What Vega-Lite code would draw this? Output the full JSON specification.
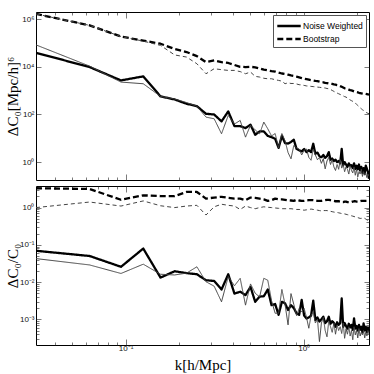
{
"$schema":"https://vega.github.io/schema/vega-lite/v6.json",
"padding":{"left":4,"top":10,"right":0,"bottom":0},
"spacing":1,
"config":{
"view":{"stroke":"black","strokeWidth":1},
"axis":{"minExtent":0,"domain":false,"grid":false,"tickColor":"#222","tickWidth":0.6,"labelFont":"Liberation Sans","labelFontSize":8,"labelColor":"#111","titleFont":"Liberation Serif","titleFontSize":15,"titleFontWeight":"normal","titleColor":"black","labelOverlap":false,"labelFlush":false},
"line":{"strokeJoin":"round"}
},
"datasets":{
"top":[
{"k":0.03142,"s":"NW","v":38900},{"k":0.06283,"s":"NW","v":9770},{"k":0.09425,"s":"NW","v":2690},{"k":0.12566,"s":"NW","v":3980},{"k":0.15708,"s":"NW","v":575},{"k":0.1885,"s":"NW","v":427},{"k":0.21991,"s":"NW","v":282},{"k":0.25133,"s":"NW","v":224},{"k":0.28274,"s":"NW","v":107},{"k":0.31416,"s":"NW","v":100},
{"k":0.34558,"s":"NW","v":51.3},{"k":0.37699,"s":"NW","v":135},{"k":0.40841,"s":"NW","v":32.4},{"k":0.43982,"s":"NW","v":32.4},{"k":0.47124,"s":"NW","v":26.9},{"k":0.50265,"s":"NW","v":37.2},{"k":0.53407,"s":"NW","v":14.1},{"k":0.56549,"s":"NW","v":19.5},{"k":0.5969,"s":"NW","v":19.5},{"k":0.62832,"s":"NW","v":12.6},
{"k":0.65973,"s":"NW","v":11.2},{"k":0.69115,"s":"NW","v":9.55},{"k":0.72257,"s":"NW","v":3.98},{"k":0.75398,"s":"NW","v":12.6},{"k":0.7854,"s":"NW","v":6.31},{"k":0.81681,"s":"NW","v":6.03},{"k":0.84823,"s":"NW","v":7.08},{"k":0.87965,"s":"NW","v":8.71},{"k":0.91106,"s":"NW","v":3.63},{"k":0.94248,"s":"NW","v":3.16},
{"k":0.97389,"s":"NW","v":2.82},{"k":1.00531,"s":"NW","v":3.55},{"k":1.03673,"s":"NW","v":2.63},{"k":1.06814,"s":"NW","v":3.16},{"k":1.09956,"s":"NW","v":2.63},{"k":1.13097,"s":"NW","v":5.89},{"k":1.16239,"s":"NW","v":2.24},{"k":1.19381,"s":"NW","v":2.51},{"k":1.22522,"s":"NW","v":1.78},{"k":1.25664,"s":"NW","v":1.62},
{"k":1.28805,"s":"NW","v":2.0},{"k":1.31947,"s":"NW","v":1.51},{"k":1.35088,"s":"NW","v":1.78},{"k":1.3823,"s":"NW","v":2.63},{"k":1.41372,"s":"NW","v":1.26},{"k":1.44513,"s":"NW","v":1.41},{"k":1.47655,"s":"NW","v":1.12},{"k":1.50796,"s":"NW","v":1.26},{"k":1.53938,"s":"NW","v":1.0},{"k":1.5708,"s":"NW","v":1.12},
{"k":1.60221,"s":"NW","v":0.891},{"k":1.63363,"s":"NW","v":3.63},{"k":1.66504,"s":"NW","v":0.741},{"k":1.69646,"s":"NW","v":1.0},{"k":1.72788,"s":"NW","v":0.794},{"k":1.75929,"s":"NW","v":0.631},{"k":1.79071,"s":"NW","v":0.891},{"k":1.82212,"s":"NW","v":0.708},{"k":1.85354,"s":"NW","v":0.741},{"k":1.88496,"s":"NW","v":0.562},
{"k":1.91637,"s":"NW","v":0.891},{"k":1.94779,"s":"NW","v":0.525},{"k":1.9792,"s":"NW","v":0.708},{"k":2.01062,"s":"NW","v":0.501},{"k":2.04204,"s":"NW","v":0.794},{"k":2.07345,"s":"NW","v":0.447},{"k":2.10487,"s":"NW","v":0.631},{"k":2.13628,"s":"NW","v":0.355},{"k":2.1677,"s":"NW","v":0.562},{"k":2.19911,"s":"NW","v":0.324},
{"k":2.23053,"s":"NW","v":0.708},{"k":2.26195,"s":"NW","v":0.525},{"k":2.29336,"s":"NW","v":0.398},{"k":2.32478,"s":"NW","v":0.2},
{"k":0.03142,"s":"NWt","v":83200},{"k":0.06283,"s":"NWt","v":10700},{"k":0.09425,"s":"NWt","v":2290},{"k":0.12566,"s":"NWt","v":1950},{"k":0.15708,"s":"NWt","v":575},{"k":0.1885,"s":"NWt","v":447},{"k":0.21991,"s":"NWt","v":316},{"k":0.25133,"s":"NWt","v":224},{"k":0.28274,"s":"NWt","v":77.6},{"k":0.31416,"s":"NWt","v":66.1},
{"k":0.34558,"s":"NWt","v":15.5},{"k":0.37699,"s":"NWt","v":91.2},{"k":0.40841,"s":"NWt","v":39.8},{"k":0.43982,"s":"NWt","v":56.2},{"k":0.47124,"s":"NWt","v":11.2},{"k":0.50265,"s":"NWt","v":35.5},{"k":0.53407,"s":"NWt","v":22.4},{"k":0.56549,"s":"NWt","v":15.5},{"k":0.5969,"s":"NWt","v":47.9},{"k":0.62832,"s":"NWt","v":25.1},
{"k":0.65973,"s":"NWt","v":12.6},{"k":0.69115,"s":"NWt","v":15.8},{"k":0.72257,"s":"NWt","v":3.98},{"k":0.75398,"s":"NWt","v":15.8},{"k":0.7854,"s":"NWt","v":7.94},{"k":0.81681,"s":"NWt","v":2.51},{"k":0.84823,"s":"NWt","v":1.38},{"k":0.87965,"s":"NWt","v":5.01},{"k":0.91106,"s":"NWt","v":3.98},{"k":0.94248,"s":"NWt","v":3.55},
{"k":0.97389,"s":"NWt","v":2.0},{"k":1.00531,"s":"NWt","v":3.16},{"k":1.03673,"s":"NWt","v":3.55},{"k":1.06814,"s":"NWt","v":1.58},{"k":1.09956,"s":"NWt","v":1.2},{"k":1.13097,"s":"NWt","v":3.55},{"k":1.16239,"s":"NWt","v":2.0},{"k":1.19381,"s":"NWt","v":1.26},{"k":1.22522,"s":"NWt","v":1.58},{"k":1.25664,"s":"NWt","v":0.891},
{"k":1.28805,"s":"NWt","v":1.41},{"k":1.31947,"s":"NWt","v":0.525},{"k":1.35088,"s":"NWt","v":1.12},{"k":1.3823,"s":"NWt","v":1.58},{"k":1.41372,"s":"NWt","v":0.794},{"k":1.44513,"s":"NWt","v":1.26},{"k":1.47655,"s":"NWt","v":0.631},{"k":1.50796,"s":"NWt","v":0.447},{"k":1.53938,"s":"NWt","v":0.794},{"k":1.5708,"s":"NWt","v":0.501},
{"k":1.60221,"s":"NWt","v":1.26},{"k":1.63363,"s":"NWt","v":0.562},{"k":1.66504,"s":"NWt","v":0.794},{"k":1.69646,"s":"NWt","v":0.398},{"k":1.72788,"s":"NWt","v":0.631},{"k":1.75929,"s":"NWt","v":0.501},{"k":1.79071,"s":"NWt","v":0.316},{"k":1.82212,"s":"NWt","v":0.708},{"k":1.85354,"s":"NWt","v":0.447},{"k":1.88496,"s":"NWt","v":0.355},
{"k":1.91637,"s":"NWt","v":0.631},{"k":1.94779,"s":"NWt","v":0.282},{"k":1.9792,"s":"NWt","v":0.501},{"k":2.01062,"s":"NWt","v":0.24},{"k":2.04204,"s":"NWt","v":0.398},{"k":2.07345,"s":"NWt","v":0.316},{"k":2.10487,"s":"NWt","v":0.501},{"k":2.13628,"s":"NWt","v":0.251},{"k":2.1677,"s":"NWt","v":0.398},{"k":2.19911,"s":"NWt","v":0.282},
{"k":2.23053,"s":"NWt","v":0.355},{"k":2.26195,"s":"NWt","v":0.224},{"k":2.29336,"s":"NWt","v":0.316},{"k":2.32478,"s":"NWt","v":0.251},
{"k":0.03142,"s":"BS","v":1660000},{"k":0.06283,"s":"BS","v":550000},{"k":0.09425,"s":"BS","v":186000},{"k":0.12566,"s":"BS","v":126000},{"k":0.15708,"s":"BS","v":93300},{"k":0.1885,"s":"BS","v":56200},{"k":0.21991,"s":"BS","v":41700},{"k":0.25133,"s":"BS","v":28200},{"k":0.28274,"s":"BS","v":15800},{"k":0.31416,"s":"BS","v":18600},
{"k":0.34558,"s":"BS","v":15800},{"k":0.37699,"s":"BS","v":14500},{"k":0.40841,"s":"BS","v":12000},{"k":0.43982,"s":"BS","v":10000},{"k":0.47124,"s":"BS","v":9770},{"k":0.50265,"s":"BS","v":10000},{"k":0.53407,"s":"BS","v":9550},{"k":0.56549,"s":"BS","v":8510},{"k":0.5969,"s":"BS","v":7590},{"k":0.62832,"s":"BS","v":7080},
{"k":0.65973,"s":"BS","v":6610},{"k":0.69115,"s":"BS","v":6310},{"k":0.72257,"s":"BS","v":5750},{"k":0.75398,"s":"BS","v":5250},{"k":0.7854,"s":"BS","v":5010},{"k":0.81681,"s":"BS","v":4680},{"k":0.84823,"s":"BS","v":4370},{"k":0.87965,"s":"BS","v":4170},{"k":0.91106,"s":"BS","v":3890},{"k":0.94248,"s":"BS","v":3630},
{"k":0.97389,"s":"BS","v":3390},{"k":1.00531,"s":"BS","v":3160},{"k":1.03673,"s":"BS","v":3020},{"k":1.06814,"s":"BS","v":2880},{"k":1.09956,"s":"BS","v":2750},{"k":1.13097,"s":"BS","v":2690},{"k":1.16239,"s":"BS","v":2570},{"k":1.19381,"s":"BS","v":2510},{"k":1.22522,"s":"BS","v":2400},{"k":1.25664,"s":"BS","v":2290},
{"k":1.28805,"s":"BS","v":2240},{"k":1.31947,"s":"BS","v":2140},{"k":1.35088,"s":"BS","v":2090},{"k":1.3823,"s":"BS","v":2000},{"k":1.41372,"s":"BS","v":1950},{"k":1.44513,"s":"BS","v":1910},{"k":1.47655,"s":"BS","v":1820},{"k":1.50796,"s":"BS","v":1780},{"k":1.53938,"s":"BS","v":1700},{"k":1.5708,"s":"BS","v":1660},
{"k":1.60221,"s":"BS","v":1550},{"k":1.63363,"s":"BS","v":1450},{"k":1.66504,"s":"BS","v":1350},{"k":1.69646,"s":"BS","v":1260},{"k":1.72788,"s":"BS","v":1200},{"k":1.75929,"s":"BS","v":1150},{"k":1.79071,"s":"BS","v":1100},{"k":1.82212,"s":"BS","v":1050},{"k":1.85354,"s":"BS","v":1020},{"k":1.88496,"s":"BS","v":977},
{"k":1.91637,"s":"BS","v":933},{"k":1.94779,"s":"BS","v":912},{"k":1.9792,"s":"BS","v":871},{"k":2.01062,"s":"BS","v":851},{"k":2.04204,"s":"BS","v":813},{"k":2.07345,"s":"BS","v":794},{"k":2.10487,"s":"BS","v":776},{"k":2.13628,"s":"BS","v":759},{"k":2.1677,"s":"BS","v":741},{"k":2.19911,"s":"BS","v":741},
{"k":2.23053,"s":"BS","v":724},{"k":2.26195,"s":"BS","v":708},{"k":2.29336,"s":"BS","v":692},{"k":2.32478,"s":"BS","v":676},
{"k":0.03142,"s":"BSt","v":1660000},{"k":0.06283,"s":"BSt","v":550000},{"k":0.09425,"s":"BSt","v":186000},{"k":0.12566,"s":"BSt","v":120000},{"k":0.15708,"s":"BSt","v":79400},{"k":0.1885,"s":"BSt","v":31600},{"k":0.21991,"s":"BSt","v":25700},{"k":0.25133,"s":"BSt","v":13500},{"k":0.28274,"s":"BSt","v":5130},{"k":0.31416,"s":"BSt","v":8320},
{"k":0.34558,"s":"BSt","v":7590},{"k":0.37699,"s":"BSt","v":7080},{"k":0.40841,"s":"BSt","v":7080},{"k":0.43982,"s":"BSt","v":6310},{"k":0.47124,"s":"BSt","v":5130},{"k":0.50265,"s":"BSt","v":6030},{"k":0.53407,"s":"BSt","v":3980},{"k":0.56549,"s":"BSt","v":3720},{"k":0.5969,"s":"BSt","v":3310},{"k":0.62832,"s":"BSt","v":3160},
{"k":0.65973,"s":"BSt","v":3160},{"k":0.69115,"s":"BSt","v":2880},{"k":0.72257,"s":"BSt","v":2690},{"k":0.75398,"s":"BSt","v":2510},{"k":0.7854,"s":"BSt","v":1950},{"k":0.81681,"s":"BSt","v":2140},{"k":0.84823,"s":"BSt","v":2000},{"k":0.87965,"s":"BSt","v":2000},{"k":0.91106,"s":"BSt","v":1910},{"k":0.94248,"s":"BSt","v":1780},
{"k":0.97389,"s":"BSt","v":1740},{"k":1.00531,"s":"BSt","v":1660},{"k":1.03673,"s":"BSt","v":1580},{"k":1.06814,"s":"BSt","v":1550},{"k":1.09956,"s":"BSt","v":1510},{"k":1.13097,"s":"BSt","v":1480},{"k":1.16239,"s":"BSt","v":1450},{"k":1.19381,"s":"BSt","v":1410},{"k":1.22522,"s":"BSt","v":1380},{"k":1.25664,"s":"BSt","v":1350},
{"k":1.28805,"s":"BSt","v":1320},{"k":1.31947,"s":"BSt","v":1290},{"k":1.35088,"s":"BSt","v":1230},{"k":1.3823,"s":"BSt","v":1200},{"k":1.41372,"s":"BSt","v":1120},{"k":1.44513,"s":"BSt","v":1020},{"k":1.47655,"s":"BSt","v":933},{"k":1.50796,"s":"BSt","v":851},{"k":1.53938,"s":"BSt","v":794},{"k":1.5708,"s":"BSt","v":741},
{"k":1.60221,"s":"BSt","v":692},{"k":1.63363,"s":"BSt","v":646},{"k":1.66504,"s":"BSt","v":603},{"k":1.69646,"s":"BSt","v":562},{"k":1.72788,"s":"BSt","v":537},{"k":1.75929,"s":"BSt","v":490},{"k":1.79071,"s":"BSt","v":447},{"k":1.82212,"s":"BSt","v":407},{"k":1.85354,"s":"BSt","v":380},{"k":1.88496,"s":"BSt","v":355},
{"k":1.91637,"s":"BSt","v":331},{"k":1.94779,"s":"BSt","v":295},{"k":1.9792,"s":"BSt","v":269},{"k":2.01062,"s":"BSt","v":240},{"k":2.04204,"s":"BSt","v":214},{"k":2.07345,"s":"BSt","v":191},{"k":2.10487,"s":"BSt","v":174},{"k":2.13628,"s":"BSt","v":158},{"k":2.1677,"s":"BSt","v":148},{"k":2.19911,"s":"BSt","v":135},
{"k":2.23053,"s":"BSt","v":126},{"k":2.26195,"s":"BSt","v":117},{"k":2.29336,"s":"BSt","v":112},{"k":2.32478,"s":"BSt","v":107}
],
"bot":[
{"k":0.03142,"s":"NW","v":0.0692},{"k":0.06283,"s":"NW","v":0.0501},{"k":0.09425,"s":"NW","v":0.0257},{"k":0.12566,"s":"NW","v":0.0794},{"k":0.15708,"s":"NW","v":0.0132},{"k":0.1885,"s":"NW","v":0.0195},{"k":0.21991,"s":"NW","v":0.0174},{"k":0.25133,"s":"NW","v":0.0162},{"k":0.28274,"s":"NW","v":0.0112},{"k":0.31416,"s":"NW","v":0.0107},
{"k":0.34558,"s":"NW","v":0.00631},{"k":0.37699,"s":"NW","v":0.0162},{"k":0.40841,"s":"NW","v":0.0049},{"k":0.43982,"s":"NW","v":0.0055},{"k":0.47124,"s":"NW","v":0.00447},{"k":0.50265,"s":"NW","v":0.00741},{"k":0.53407,"s":"NW","v":0.00295},{"k":0.56549,"s":"NW","v":0.00407},{"k":0.5969,"s":"NW","v":0.00417},{"k":0.62832,"s":"NW","v":0.00631},
{"k":0.65973,"s":"NW","v":0.0024},{"k":0.69115,"s":"NW","v":0.00257},{"k":0.72257,"s":"NW","v":0.00132},{"k":0.75398,"s":"NW","v":0.00295},{"k":0.7854,"s":"NW","v":0.00269},{"k":0.81681,"s":"NW","v":0.00178},{"k":0.84823,"s":"NW","v":0.0024},{"k":0.87965,"s":"NW","v":0.002},{"k":0.91106,"s":"NW","v":0.00145},{"k":0.94248,"s":"NW","v":0.00132},
{"k":0.97389,"s":"NW","v":0.00331},{"k":1.00531,"s":"NW","v":0.00126},{"k":1.03673,"s":"NW","v":0.00105},{"k":1.06814,"s":"NW","v":0.00112},{"k":1.09956,"s":"NW","v":0.00126},{"k":1.13097,"s":"NW","v":0.00316},{"k":1.16239,"s":"NW","v":0.000955},{"k":1.19381,"s":"NW","v":0.00112},{"k":1.22522,"s":"NW","v":0.000871},{"k":1.25664,"s":"NW","v":0.001},
{"k":1.28805,"s":"NW","v":0.00117},{"k":1.31947,"s":"NW","v":0.000794},{"k":1.35088,"s":"NW","v":0.000891},{"k":1.3823,"s":"NW","v":0.00117},{"k":1.41372,"s":"NW","v":0.000759},{"k":1.44513,"s":"NW","v":0.000891},{"k":1.47655,"s":"NW","v":0.000794},{"k":1.50796,"s":"NW","v":0.000631},{"k":1.53938,"s":"NW","v":0.000832},{"k":1.5708,"s":"NW","v":0.000708},
{"k":1.60221,"s":"NW","v":0.000794},{"k":1.63363,"s":"NW","v":0.00363},{"k":1.66504,"s":"NW","v":0.000631},{"k":1.69646,"s":"NW","v":0.000794},{"k":1.72788,"s":"NW","v":0.000661},{"k":1.75929,"s":"NW","v":0.000562},{"k":1.79071,"s":"NW","v":0.000759},{"k":1.82212,"s":"NW","v":0.000603},{"k":1.85354,"s":"NW","v":0.000708},{"k":1.88496,"s":"NW","v":0.000525},
{"k":1.91637,"s":"NW","v":0.00105},{"k":1.94779,"s":"NW","v":0.000562},{"k":1.9792,"s":"NW","v":0.000661},{"k":2.01062,"s":"NW","v":0.000501},{"k":2.04204,"s":"NW","v":0.000708},{"k":2.07345,"s":"NW","v":0.000525},{"k":2.10487,"s":"NW","v":0.000631},{"k":2.13628,"s":"NW","v":0.000447},{"k":2.1677,"s":"NW","v":0.000776},{"k":2.19911,"s":"NW","v":0.000501},
{"k":2.23053,"s":"NW","v":0.000631},{"k":2.26195,"s":"NW","v":0.000447},{"k":2.29336,"s":"NW","v":0.000603},{"k":2.32478,"s":"NW","v":0.000468},
{"k":0.03142,"s":"NWt","v":0.0427},{"k":0.06283,"s":"NWt","v":0.0288},{"k":0.09425,"s":"NWt","v":0.017},{"k":0.12566,"s":"NWt","v":0.0302},{"k":0.15708,"s":"NWt","v":0.0162},{"k":0.1885,"s":"NWt","v":0.0155},{"k":0.21991,"s":"NWt","v":0.0174},{"k":0.25133,"s":"NWt","v":0.0257},{"k":0.28274,"s":"NWt","v":0.0102},{"k":0.31416,"s":"NWt","v":0.00776},
{"k":0.34558,"s":"NWt","v":0.00295},{"k":0.37699,"s":"NWt","v":0.0141},{"k":0.40841,"s":"NWt","v":0.00794},{"k":0.43982,"s":"NWt","v":0.0126},{"k":0.47124,"s":"NWt","v":0.0024},{"k":0.50265,"s":"NWt","v":0.00891},{"k":0.53407,"s":"NWt","v":0.00501},{"k":0.56549,"s":"NWt","v":0.00398},{"k":0.5969,"s":"NWt","v":0.0126},{"k":0.62832,"s":"NWt","v":0.0112},
{"k":0.65973,"s":"NWt","v":0.00316},{"k":0.69115,"s":"NWt","v":0.00145},{"k":0.72257,"s":"NWt","v":0.00145},{"k":0.75398,"s":"NWt","v":0.00631},{"k":0.7854,"s":"NWt","v":0.00251},{"k":0.81681,"s":"NWt","v":0.000708},{"k":0.84823,"s":"NWt","v":0.0049},{"k":0.87965,"s":"NWt","v":0.00251},{"k":0.91106,"s":"NWt","v":0.00126},{"k":0.94248,"s":"NWt","v":0.00195},
{"k":0.97389,"s":"NWt","v":0.00158},{"k":1.00531,"s":"NWt","v":0.00195},{"k":1.03673,"s":"NWt","v":0.00112},{"k":1.06814,"s":"NWt","v":0.000575},{"k":1.09956,"s":"NWt","v":0.00126},{"k":1.13097,"s":"NWt","v":0.00158},{"k":1.16239,"s":"NWt","v":0.000794},{"k":1.19381,"s":"NWt","v":0.001},{"k":1.22522,"s":"NWt","v":0.000251},{"k":1.25664,"s":"NWt","v":0.000794},
{"k":1.28805,"s":"NWt","v":0.00112},{"k":1.31947,"s":"NWt","v":0.000501},{"k":1.35088,"s":"NWt","v":0.000339},{"k":1.3823,"s":"NWt","v":0.000891},{"k":1.41372,"s":"NWt","v":0.000631},{"k":1.44513,"s":"NWt","v":0.000447},{"k":1.47655,"s":"NWt","v":0.000794},{"k":1.50796,"s":"NWt","v":0.000398},{"k":1.53938,"s":"NWt","v":0.000708},{"k":1.5708,"s":"NWt","v":0.000501},
{"k":1.60221,"s":"NWt","v":0.000631},{"k":1.63363,"s":"NWt","v":0.000417},{"k":1.66504,"s":"NWt","v":0.000794},{"k":1.69646,"s":"NWt","v":0.000309},{"k":1.72788,"s":"NWt","v":0.000562},{"k":1.75929,"s":"NWt","v":0.000398},{"k":1.79071,"s":"NWt","v":0.000631},{"k":1.82212,"s":"NWt","v":0.000355},{"k":1.85354,"s":"NWt","v":0.000501},{"k":1.88496,"s":"NWt","v":0.000282},
{"k":1.91637,"s":"NWt","v":0.000631},{"k":1.94779,"s":"NWt","v":0.00038},{"k":1.9792,"s":"NWt","v":0.000501},{"k":2.01062,"s":"NWt","v":0.000316},{"k":2.04204,"s":"NWt","v":0.000562},{"k":2.07345,"s":"NWt","v":0.000355},{"k":2.10487,"s":"NWt","v":0.000447},{"k":2.13628,"s":"NWt","v":0.00038},{"k":2.1677,"s":"NWt","v":0.000501},{"k":2.19911,"s":"NWt","v":0.000316},
{"k":2.23053,"s":"NWt","v":0.000447},{"k":2.26195,"s":"NWt","v":0.000355},{"k":2.29336,"s":"NWt","v":0.000501},{"k":2.32478,"s":"NWt","v":0.000398},
{"k":0.03142,"s":"BS","v":3.31},{"k":0.06283,"s":"BS","v":3.16},{"k":0.09425,"s":"BS","v":1.62},{"k":0.12566,"s":"BS","v":2.14},{"k":0.15708,"s":"BS","v":2.04},{"k":0.1885,"s":"BS","v":2.04},{"k":0.21991,"s":"BS","v":2.63},{"k":0.25133,"s":"BS","v":2.63},{"k":0.28274,"s":"BS","v":1.74},{"k":0.31416,"s":"BS","v":1.86},
{"k":0.34558,"s":"BS","v":1.95},{"k":0.37699,"s":"BS","v":1.82},{"k":0.40841,"s":"BS","v":1.74},{"k":0.43982,"s":"BS","v":1.74},{"k":0.47124,"s":"BS","v":1.58},{"k":0.50265,"s":"BS","v":1.86},{"k":0.53407,"s":"BS","v":1.82},{"k":0.56549,"s":"BS","v":1.74},{"k":0.5969,"s":"BS","v":1.66},{"k":0.62832,"s":"BS","v":1.51},
{"k":0.65973,"s":"BS","v":1.58},{"k":0.69115,"s":"BS","v":1.74},{"k":0.72257,"s":"BS","v":1.66},{"k":0.75398,"s":"BS","v":1.66},{"k":0.7854,"s":"BS","v":1.62},{"k":0.81681,"s":"BS","v":1.58},{"k":0.84823,"s":"BS","v":1.55},{"k":0.87965,"s":"BS","v":1.51},{"k":0.91106,"s":"BS","v":1.62},{"k":0.94248,"s":"BS","v":1.55},
{"k":0.97389,"s":"BS","v":1.51},{"k":1.00531,"s":"BS","v":1.51},{"k":1.03673,"s":"BS","v":1.55},{"k":1.06814,"s":"BS","v":1.58},{"k":1.09956,"s":"BS","v":1.58},{"k":1.13097,"s":"BS","v":1.58},{"k":1.16239,"s":"BS","v":1.55},{"k":1.19381,"s":"BS","v":1.51},{"k":1.22522,"s":"BS","v":1.51},{"k":1.25664,"s":"BS","v":1.51},
{"k":1.28805,"s":"BS","v":1.55},{"k":1.31947,"s":"BS","v":1.58},{"k":1.35088,"s":"BS","v":1.62},{"k":1.3823,"s":"BS","v":1.62},{"k":1.41372,"s":"BS","v":1.58},{"k":1.44513,"s":"BS","v":1.55},{"k":1.47655,"s":"BS","v":1.51},{"k":1.50796,"s":"BS","v":1.48},{"k":1.53938,"s":"BS","v":1.48},{"k":1.5708,"s":"BS","v":1.48},
{"k":1.60221,"s":"BS","v":1.45},{"k":1.63363,"s":"BS","v":1.41},{"k":1.66504,"s":"BS","v":1.41},{"k":1.69646,"s":"BS","v":1.45},{"k":1.72788,"s":"BS","v":1.45},{"k":1.75929,"s":"BS","v":1.41},{"k":1.79071,"s":"BS","v":1.41},{"k":1.82212,"s":"BS","v":1.41},{"k":1.85354,"s":"BS","v":1.41},{"k":1.88496,"s":"BS","v":1.45},
{"k":1.91637,"s":"BS","v":1.48},{"k":1.94779,"s":"BS","v":1.48},{"k":1.9792,"s":"BS","v":1.45},{"k":2.01062,"s":"BS","v":1.45},{"k":2.04204,"s":"BS","v":1.48},{"k":2.07345,"s":"BS","v":1.48},{"k":2.10487,"s":"BS","v":1.51},{"k":2.13628,"s":"BS","v":1.51},{"k":2.1677,"s":"BS","v":1.51},{"k":2.19911,"s":"BS","v":1.51},
{"k":2.23053,"s":"BS","v":1.51},{"k":2.26195,"s":"BS","v":1.51},{"k":2.29336,"s":"BS","v":1.51},{"k":2.32478,"s":"BS","v":1.51},
{"k":0.03142,"s":"BSt","v":1.0},{"k":0.06283,"s":"BSt","v":1.41},{"k":0.09425,"s":"BSt","v":1.1},{"k":0.12566,"s":"BSt","v":1.51},{"k":0.15708,"s":"BSt","v":1.12},{"k":0.1885,"s":"BSt","v":1.0},{"k":0.21991,"s":"BSt","v":1.1},{"k":0.25133,"s":"BSt","v":1.15},{"k":0.28274,"s":"BSt","v":0.631},{"k":0.31416,"s":"BSt","v":1.05},
{"k":0.34558,"s":"BSt","v":1.23},{"k":0.37699,"s":"BSt","v":1.15},{"k":0.40841,"s":"BSt","v":1.1},{"k":0.43982,"s":"BSt","v":0.891},{"k":0.47124,"s":"BSt","v":1.1},{"k":0.50265,"s":"BSt","v":1.0},{"k":0.53407,"s":"BSt","v":0.933},{"k":0.56549,"s":"BSt","v":1.0},{"k":0.5969,"s":"BSt","v":1.05},{"k":0.62832,"s":"BSt","v":1.02},
{"k":0.65973,"s":"BSt","v":1.0},{"k":0.69115,"s":"BSt","v":0.977},{"k":0.72257,"s":"BSt","v":0.955},{"k":0.75398,"s":"BSt","v":0.933},{"k":0.7854,"s":"BSt","v":0.933},{"k":0.81681,"s":"BSt","v":0.933},{"k":0.84823,"s":"BSt","v":0.933},{"k":0.87965,"s":"BSt","v":0.912},{"k":0.91106,"s":"BSt","v":0.891},{"k":0.94248,"s":"BSt","v":0.891},
{"k":0.97389,"s":"BSt","v":0.871},{"k":1.00531,"s":"BSt","v":0.851},{"k":1.03673,"s":"BSt","v":0.871},{"k":1.06814,"s":"BSt","v":0.891},{"k":1.09956,"s":"BSt","v":0.912},{"k":1.13097,"s":"BSt","v":0.891},{"k":1.16239,"s":"BSt","v":0.871},{"k":1.19381,"s":"BSt","v":0.851},{"k":1.22522,"s":"BSt","v":0.832},{"k":1.25664,"s":"BSt","v":0.813},
{"k":1.28805,"s":"BSt","v":0.832},{"k":1.31947,"s":"BSt","v":0.832},{"k":1.35088,"s":"BSt","v":0.832},{"k":1.3823,"s":"BSt","v":0.813},{"k":1.41372,"s":"BSt","v":0.794},{"k":1.44513,"s":"BSt","v":0.776},{"k":1.47655,"s":"BSt","v":0.759},{"k":1.50796,"s":"BSt","v":0.741},{"k":1.53938,"s":"BSt","v":0.741},{"k":1.5708,"s":"BSt","v":0.724},
{"k":1.60221,"s":"BSt","v":0.708},{"k":1.63363,"s":"BSt","v":0.692},{"k":1.66504,"s":"BSt","v":0.676},{"k":1.69646,"s":"BSt","v":0.676},{"k":1.72788,"s":"BSt","v":0.661},{"k":1.75929,"s":"BSt","v":0.646},{"k":1.79071,"s":"BSt","v":0.631},{"k":1.82212,"s":"BSt","v":0.617},{"k":1.85354,"s":"BSt","v":0.603},{"k":1.88496,"s":"BSt","v":0.589},
{"k":1.91637,"s":"BSt","v":0.575},{"k":1.94779,"s":"BSt","v":0.562},{"k":1.9792,"s":"BSt","v":0.55},{"k":2.01062,"s":"BSt","v":0.537},{"k":2.04204,"s":"BSt","v":0.525},{"k":2.07345,"s":"BSt","v":0.513},{"k":2.10487,"s":"BSt","v":0.513},{"k":2.13628,"s":"BSt","v":0.525},{"k":2.1677,"s":"BSt","v":0.537},{"k":2.19911,"s":"BSt","v":0.513},
{"k":2.23053,"s":"BSt","v":0.49},{"k":2.26195,"s":"BSt","v":0.468},{"k":2.29336,"s":"BSt","v":0.447},{"k":2.32478,"s":"BSt","v":0.437}
]
},
"vconcat":[
{
"width":333,"height":168,
"data":{"name":"top"},
"layer":[
{
"encoding":{
"x":{"field":"k","type":"quantitative","scale":{"type":"log","domain":[0.03142,2.32478],"nice":false},
"axis":{"orient":"bottom","values":[0.04,0.05,0.06,0.07,0.08,0.09,0.1,0.2,0.3,0.4,0.5,0.6,0.7,0.8,0.9,1,2],"labels":false,"title":null,"tickSize":{"condition":{"test":"datum.value == 0.1 || datum.value == 1","value":-6},"value":-3}}},
"y":{"field":"v","type":"quantitative","scale":{"type":"log","domain":[0.178,2000000],"nice":false},
"axis":{"orient":"left","values":[1,100,10000,1000000],"labelExpr":"datum.value == 1 ? '10⁰' : datum.value == 100 ? '10²' : datum.value == 10000 ? '10⁴' : '10⁶'","tickSize":-5,"labelPadding":7,"minExtent":14,"maxExtent":14,"titlePadding":2,"title":"ΔC₀[Mpc/h]⁶"}},
"strokeDash":{"field":"s","type":"nominal","scale":{"domain":["NW","BS","NWt","BSt"],"range":[[1,0],[6,3],[1,0],[4,3]]},
"legend":{"values":["NW","BS"],"labelExpr":"datum.label == 'NW' ? 'Noise Weighted' : 'Bootstrap'","title":null,"orient":"top-right","offset":3,"padding":3,"strokeColor":"#555","fillColor":"white","labelFont":"Liberation Sans","labelFontSize":8.5,"labelColor":"black","symbolType":"M-1.8,0H1.8","symbolSize":169,"symbolStrokeWidth":2.5,"symbolStrokeColor":"black","symbolOffset":5,"rowPadding":0,"labelOffset":6}}
},
"layer":[
{"transform":[{"filter":{"field":"s","oneOf":["NW","BS"]}}],"mark":{"type":"line","clip":true,"strokeWidth":2.3,"color":"black"}},
{"transform":[{"filter":{"field":"s","oneOf":["NWt","BSt"]}}],"mark":{"type":"line","clip":true,"strokeWidth":1,"color":"#444444"}}
]
},
{"mark":{"type":"point","opacity":0},
"encoding":{
"x":{"field":"k","type":"quantitative","scale":{"type":"log","domain":[0.03142,2.32478],"nice":false},
"axis":{"orient":"top","values":[0.04,0.05,0.06,0.07,0.08,0.09,0.1,0.2,0.3,0.4,0.5,0.6,0.7,0.8,0.9,1,2],"labels":false,"title":null,"tickSize":{"condition":{"test":"datum.value == 0.1 || datum.value == 1","value":-6},"value":-3}}},
"y":{"field":"v","type":"quantitative","scale":{"type":"log","domain":[0.178,2000000],"nice":false},
"axis":{"orient":"right","values":[1,100,10000,1000000],"labels":false,"title":null,"tickSize":-5}}
}}
],
"resolve":{"axis":{"x":"independent","y":"independent"}}
},
{
"width":333,"height":159,
"data":{"name":"bot"},
"layer":[
{
"encoding":{
"x":{"field":"k","type":"quantitative","scale":{"type":"log","domain":[0.03142,2.32478],"nice":false},
"axis":{"orient":"bottom","values":[0.04,0.05,0.06,0.07,0.08,0.09,0.1,0.2,0.3,0.4,0.5,0.6,0.7,0.8,0.9,1,2],"labelExpr":"datum.value == 0.1 ? '10⁻¹' : datum.value == 1 ? '10⁰' : ''","labelPadding":5,"titlePadding":2,"title":"k[h/Mpc]","tickSize":{"condition":{"test":"datum.value == 0.1 || datum.value == 1","value":-6},"value":-3}}},
"y":{"field":"v","type":"quantitative","scale":{"type":"log","domain":[0.000204,3.8],"nice":false},
"axis":{"orient":"left","values":[0.0003,0.0004,0.0005,0.0006,0.0007,0.0008,0.0009,0.001,0.002,0.003,0.004,0.005,0.006,0.007,0.008,0.009,0.01,0.02,0.03,0.04,0.05,0.06,0.07,0.08,0.09,0.1,0.2,0.3,0.4,0.5,0.6,0.7,0.8,0.9,1,2,3],"labelExpr":"datum.value == 1 ? '10⁰' : datum.value == 0.1 ? '10⁻¹' : datum.value == 0.01 ? '10⁻²' : datum.value == 0.001 ? '10⁻³' : ''","tickSize":{"condition":{"test":"indexof([1,0.1,0.01,0.001], datum.value) >= 0","value":-5},"value":-3},"labelPadding":7,"minExtent":14,"maxExtent":14,"titlePadding":2,"title":"ΔC₀/C₀"}},
"strokeDash":{"field":"s","type":"nominal","scale":{"domain":["NW","BS","NWt","BSt"],"range":[[1,0],[6,3],[1,0],[4,3]]},"legend":null}
},
"layer":[
{"transform":[{"filter":{"field":"s","oneOf":["NW","BS"]}}],"mark":{"type":"line","clip":true,"strokeWidth":2.3,"color":"black"}},
{"transform":[{"filter":{"field":"s","oneOf":["NWt","BSt"]}}],"mark":{"type":"line","clip":true,"strokeWidth":1,"color":"#444444"}}
]
},
{"mark":{"type":"point","opacity":0},
"encoding":{
"x":{"field":"k","type":"quantitative","scale":{"type":"log","domain":[0.03142,2.32478],"nice":false},
"axis":{"orient":"top","values":[0.04,0.05,0.06,0.07,0.08,0.09,0.1,0.2,0.3,0.4,0.5,0.6,0.7,0.8,0.9,1,2],"labels":false,"title":null,"tickSize":{"condition":{"test":"datum.value == 0.1 || datum.value == 1","value":-6},"value":-3}}},
"y":{"field":"v","type":"quantitative","scale":{"type":"log","domain":[0.000204,3.8],"nice":false},
"axis":{"orient":"right","values":[0.0003,0.0004,0.0005,0.0006,0.0007,0.0008,0.0009,0.001,0.002,0.003,0.004,0.005,0.006,0.007,0.008,0.009,0.01,0.02,0.03,0.04,0.05,0.06,0.07,0.08,0.09,0.1,0.2,0.3,0.4,0.5,0.6,0.7,0.8,0.9,1,2,3],"labels":false,"title":null,"tickSize":{"condition":{"test":"indexof([1,0.1,0.01,0.001], datum.value) >= 0","value":-5},"value":-3}}}
}}
],
"resolve":{"axis":{"x":"independent","y":"independent"}}
}
],
"resolve":{"scale":{"strokeDash":"independent"},"legend":{"strokeDash":"independent"}}
}
